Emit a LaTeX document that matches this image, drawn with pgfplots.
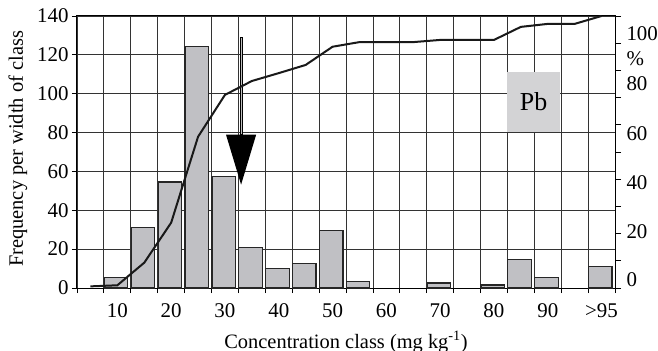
\documentclass[border=0pt]{standalone}
\usepackage{pgfplots}
\pgfplotsset{compat=1.18}
\usepackage{fontspec}
\setmainfont{Liberation Serif}
\definecolor{barfill}{RGB}{192,192,196}
\definecolor{boxfill}{RGB}{211,211,213}
\begin{document}
\begin{tikzpicture}
\useasboundingbox (-77bp,-63bp) rectangle (581bp,288bp);
\pgfplotsset{
  base/.style={scale only axis, width=538bp, height=272bp, at={(0,0)}, anchor=south west,
    xmin=0, xmax=20,
    /pgf/number format/assume math mode=true,
    tick label style={font=\fontsize{21}{24}\selectfont}},
}
\begin{axis}[base,
  ymin=0, ymax=140, ytick={0,20,...,140},
  xtick={0,...,20}, xticklabels={},
  grid=major, grid style={black!80, line width=0.8bp},
  axis line style={black, line width=1bp},
  tick align=outside, xtick pos=bottom, ytick pos=left,
  major tick length=5bp, tick style={black, line width=0.8bp},
  extra x ticks={1.5,3.5,5.5,7.5,9.5,11.5,13.5,15.5,17.5,19.5},
  extra x tick labels={10,20,30,40,50,60,70,80,90,{>95}},
  extra x tick style={major tick length=0pt, grid=none, tick style={draw=none},
    xticklabel style={anchor=base, yshift=-29bp}},
  ylabel={Frequency per width of class},
  every axis y label/.style={at={(axis description cs:0,0.5)}, anchor=center, xshift=-59bp, yshift=3bp, rotate=90, font=\fontsize{20.5}{24}\selectfont},
  xlabel={Concentration class (mg kg\textsuperscript{-1})},
  every axis x label/.style={at={(axis description cs:0.5,0)}, anchor=base, yshift=-60bp, font=\fontsize{20.5}{24}\selectfont},
]
\addplot[ybar, bar width=0.87, bar shift=0pt, fill=barfill, draw=black!85, line width=1.2bp]
  coordinates {(1.45,5.5) (2.45,31.3) (3.45,54.6) (4.45,124.5) (5.45,57.4) (6.45,21)
  (7.45,10) (8.45,12.6) (9.45,29.6) (10.45,3.4) (13.45,2.6) (15.45,1.5) (16.45,14.6)
  (17.45,5.5) (19.45,11.2)};
\fill[boxfill] (axis cs:15.99,80.4) rectangle (axis cs:17.96,111.3);
\node[font=\fontsize{26}{30}\selectfont] at (axis cs:16.975,95.85) {Pb};
\draw[black, line width=0.7bp, fill=black!25] (axis cs:6.07,78.9) rectangle (axis cs:6.13,129.2);
\fill[black] (axis cs:5.54,78.9) -- (axis cs:6.66,78.9) -- (axis cs:6.1,53.2) -- cycle;
\end{axis}
\begin{axis}[base,
  ymin=0, ymax=100, hide x axis, axis y line*=right,
  axis line style={black, line width=1bp},
  ytick={0,10,...,100}, yticklabels={},
  tick align=outside, major tick length=6bp, tick style={black, line width=0.8bp},
  extra y ticks={3.2,20.7,38.7,56.9,75.1,84.2,93.5},
  extra y tick labels={0,20,40,60,80,\%,100},
  extra y tick style={major tick length=0pt, tick style={draw=none}},
  yticklabel style={anchor=west, xshift=8bp},
]
\addplot[black!90, line width=2bp] coordinates {(0.5,0.6) (1.5,1.0) (2.5,9.3) (3.5,24.0)
  (4.5,55.6) (5.5,71.0) (6.5,76.1) (7.5,79.0) (8.5,82.0) (9.5,88.7) (10.5,90.4)
  (11.5,90.4) (12.5,90.4) (13.5,91.2) (14.5,91.2) (15.5,91.2) (16.5,96.0) (17.5,97.1)
  (18.5,97.1) (19.5,100)};
\end{axis}
\end{tikzpicture}
\end{document}
